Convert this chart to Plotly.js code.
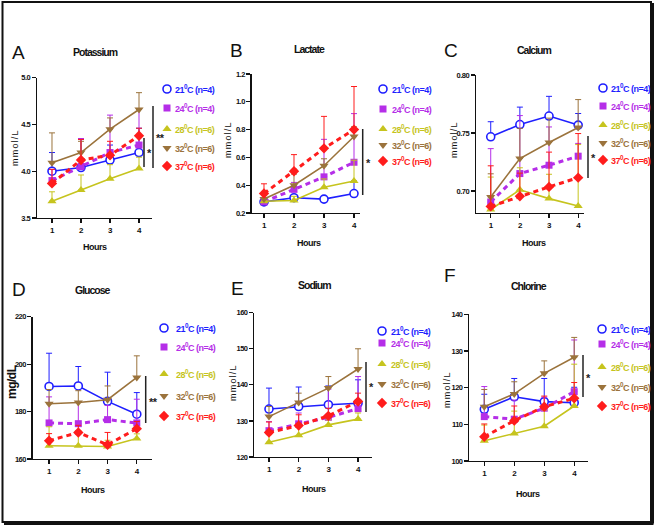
<!DOCTYPE html>
<html><head><meta charset="utf-8">
<script src="https://cdn.plot.ly/plotly-3.0.1.min.js"></script>
<style>body{margin:0;background:#fff}#chart{width:655px;height:528px} text{letter-spacing:-0.5px}</style>
</head><body><div id="chart"></div>
<script>
// ---------------- DATA ----------------
const hours = [1, 2, 3, 4];
const seriesNames = ['21<sup>0</sup>C (n=4)', '24<sup>0</sup>C (n=4)', '28<sup>0</sup>C (n=6)', '32<sup>0</sup>C (n=6)', '37<sup>0</sup>C (n=6)'];
const panelTitles = ['Potassium', 'Lactate', 'Calcium', 'Glucose', 'Sodium', 'Chlorine'];
const panelLetters = ['A', 'B', 'C', 'D', 'E', 'F'];
const yUnits = ['mmol/L', 'mmol/L', 'mmol/L', 'mg/dL', 'mmol/L', 'mmol/L'];
const xLabel = 'Hours';

// mean values per series: 21, 24, 28, 32, 37 °C
const potassiumMean = [[4.00, 4.04, 4.12, 4.20], [3.90, 4.05, 4.20, 4.28], [3.68, 3.80, 3.92, 4.03], [4.09, 4.20, 4.45, 4.66], [3.87, 4.12, 4.17, 4.38]];
const potassiumErr  = [[0.20, 0.30, 0.16, 0.26], [0.12, 0.30, 0.40, 0.38], [0.10, 0.16, 0.15, 0.12], [0.32, 0.12, 0.12, 0.18], [0.15, 0.22, 0.15, 0.08]];
const lactateMean = [[0.28, 0.31, 0.30, 0.34], [0.28, 0.37, 0.46, 0.565], [0.285, 0.29, 0.385, 0.43], [0.30, 0.40, 0.54, 0.75], [0.34, 0.50, 0.665, 0.80]];
const lactateErr  = [[0.02, 0.02, 0.02, 0.09], [0.02, 0.05, 0.27, 0.35], [0.02, 0.03, 0.06, 0.15], [0.03, 0.08, 0.05, 0.07], [0.07, 0.12, 0.23, 0.31]];
const calciumMean = [[0.7467, 0.7573, 0.7646, 0.7568], [0.6905, 0.715, 0.7222, 0.730], [0.684, 0.701, 0.6934, 0.687], [0.6948, 0.728, 0.7418, 0.7548], [0.6867, 0.6954, 0.7035, 0.7115]];
const calciumErr  = [[0.013, 0.015, 0.017, 0.010], [0.046, 0.050, 0.033, 0.011], [0.028, 0.019, 0.021, 0.053], [0.020, 0.026, 0.021, 0.024], [0.035, 0.020, 0.030, 0.038]];
const glucoseMean = [[190.6, 190.8, 184.3, 178.9], [175.2, 174.9, 176.6, 175.2], [165.6, 165.6, 165.3, 168.6], [183.3, 183.8, 185.0, 194.4], [167.7, 171.2, 166.0, 172.8]];
const glucoseErr  = [[14.0, 8.2, 12.3, 9.1], [11.0, 9.0, 6.0, 10.0], [8.0, 6.4, 2.6, 2.0], [6.0, 5.0, 5.8, 9.1], [3.0, 3.0, 5.2, 3.0]];
const sodiumMean = [[133.3, 134.0, 134.5, 134.9], [127.3, 129.2, 131.0, 133.4], [124.1, 126.0, 128.9, 130.5], [131.2, 135.1, 139.1, 144.4], [126.8, 128.7, 131.4, 135.4]];
const sodiumErr  = [[5.8, 5.4, 5.2, 6.5], [2.5, 3.0, 7.8, 8.9], [2.1, 2.5, 1.4, 1.7], [2.8, 2.6, 3.2, 5.6], [2.9, 3.0, 2.1, 2.3]];
const chlorineMean = [[114.1, 117.5, 116.2, 115.9], [112.1, 111.4, 114.4, 118.9], [105.5, 107.5, 109.5, 115.0], [114.8, 118.3, 123.9, 128.3], [106.6, 111.0, 114.8, 117.1]];
const chlorineErr  = [[4.1, 5.0, 6.3, 4.2], [8.2, 5.2, 3.0, 14.1], [4.3, 6.1, 4.4, 11.4], [4.7, 3.3, 3.4, 5.4], [3.5, 4.0, 2.9, 4.3]];

const potassiumTicks = [3.5, 4.0, 4.5, 5.0];
const lactateTicks = [0.2, 0.4, 0.6, 0.8, 1.0, 1.2];
const calciumTicks = [0.70, 0.75, 0.80];
const glucoseTicks = [160, 180, 200, 220];
const sodiumTicks = [120, 130, 140, 150, 160];
const chlorineTicks = [100, 110, 120, 130, 140];
const sigLabels = [['*', '**'], ['*'], ['*'], ['**'], ['*'], ['*']];

const panelMeans = [potassiumMean, lactateMean, calciumMean, glucoseMean, sodiumMean, chlorineMean];
const panelErrs = [potassiumErr, lactateErr, calciumErr, glucoseErr, sodiumErr, chlorineErr];
const panelTicks = [potassiumTicks, lactateTicks, calciumTicks, glucoseTicks, sodiumTicks, chlorineTicks];

// ---------------- STYLE / LAYOUT ----------------
const W = 655, H = 528;
const PX = v => v / W, PY = v => 1 - v / H;
const SANS = "'Liberation Sans', Arial, sans-serif";
const colors = ['#1f1fff', '#b52ee8', '#c6c41e', '#9b733c', '#ff1c1c'];
const symbols = ['circle', 'square', 'triangle-up', 'triangle-down', 'diamond'];
const dashed = [false, true, false, false, true];

const panels = [
  {dom: [37, 152, 77.7, 218], xr: [0.483, 4.448], yr: [3.5, 5.0], fmt: '.1f', title: [95, 52], letter: [18, 53], xt: [95, 247], yt: [15, 148], ytBold: false,
   legM: 167, legT: 173, legY: [89, 108, 129, 148, 166],
   sig: [{x: 144, y0: 138, y1: 167, lx: 149, ly: 153}, {x: 153, y0: 106, y1: 168, lx: 160, ly: 138}]},
  {dom: [251.7, 360, 74, 213], xr: [0.59, 4.2], yr: [0.2, 1.2], fmt: '.1f', title: [309, 49], letter: [236, 51], xt: [309, 243], yt: [228, 140], ytBold: false,
   legM: 383, legT: 390, legY: [89, 109, 129, 145, 161],
   sig: [{x: 362.7, y0: 129, y1: 195, lx: 368, ly: 163}]},
  {dom: [476, 584, 75, 213], xr: [0.495, 4.2], yr: [0.681, 0.80], fmt: '.2f', title: [534, 50], letter: [450, 50], xt: [534, 243], yt: [454, 140], ytBold: false,
   legM: 603, legT: 609, legY: [88, 106, 125, 143, 160],
   sig: [{x: 588, y0: 136, y1: 178, lx: 593, ly: 158}]},
  {dom: [32.7, 152, 316.7, 459], xr: [0.44, 4.52], yr: [160, 220], fmt: 'd', title: [93, 290], letter: [18, 289], xt: [93, 490], yt: [12, 382], ytBold: true,
   legM: 164, legT: 174, legY: [328, 347, 374, 396, 416],
   sig: [{x: 145.7, y0: 376, y1: 423, lx: 153, ly: 402}]},
  {dom: [254.3, 371.7, 312.7, 457], xr: [0.505, 4.46], yr: [120, 160], fmt: 'd', title: [314, 285], letter: [237, 288], xt: [314, 489], yt: [233, 383], ytBold: false,
   legM: 382, legT: 389, legY: [331, 343, 364, 384, 403],
   sig: [{x: 366, y0: 362, y1: 412, lx: 371, ly: 387}]},
  {dom: [469.3, 588, 314.3, 461], xr: [0.5, 4.46], yr: [100, 140], fmt: 'd', title: [529, 286], letter: [449, 275], xt: [528, 494], yt: [447, 390], ytBold: false,
   legM: 602, legT: 609, legY: [329, 344, 367, 387, 406],
   sig: [{x: 583, y0: 355, y1: 397, lx: 588, ly: 378}]}
];

const traces = [];
const layout = {
  width: W, height: H, margin: {l: 0, r: 0, t: 0, b: 0},
  paper_bgcolor: '#fff', plot_bgcolor: 'rgba(0,0,0,0)',
  showlegend: true, annotations: [], shapes: [], font: {family: SANS, color: '#111'}
};

panels.forEach((p, i) => {
  const n = i + 1;
  const xa = 'xaxis' + (n === 1 ? '' : n), ya = 'yaxis' + (n === 1 ? '' : n);
  const xr = 'x' + (n === 1 ? '' : n), yr = 'y' + (n === 1 ? '' : n);
  layout[xa] = {domain: [PX(p.dom[0]), PX(p.dom[1])], range: p.xr, anchor: yr, showgrid: false, zeroline: false,
    showline: true, linecolor: '#111', linewidth: 1.3, ticks: 'outside', ticklen: 4, tickwidth: 1.2, tickcolor: '#111',
    tickvals: hours, tickfont: {family: SANS, size: 8, weight: 'bold', color: '#111'}};
  layout[ya] = {domain: [PY(p.dom[3]), PY(p.dom[2])], range: p.yr, anchor: xr, showgrid: false, zeroline: false,
    showline: true, linecolor: '#111', linewidth: 1.3, ticks: 'outside', ticklen: 4, tickwidth: 1.2, tickcolor: '#111',
    tickvals: panelTicks[i], tickformat: p.fmt, tickfont: {family: SANS, size: 7.5, weight: 'bold', color: '#111'}};

  const means = panelMeans[i], errs = panelErrs[i];
  means.forEach((m, s) => {
    traces.push({x: hours, y: m, xaxis: xr, yaxis: yr, mode: 'lines', showlegend: false, hoverinfo: 'skip',
      line: {color: colors[s], width: dashed[s] ? 3 : 1.6, dash: dashed[s] ? '5px,4px' : 'solid'}});
    const k = i * 5 + s;
    const legId = k === 0 ? 'legend' : 'legend' + (k + 1);
    // legend key = marker only; its label is drawn as a coloured annotation right next to it
    traces.push({x: hours, y: m, xaxis: xr, yaxis: yr, mode: 'markers', name: '', legend: legId, showlegend: true, cliponaxis: false,
      marker: {symbol: symbols[s], size: s === 1 ? 7 : 8, color: s === 0 ? '#fff' : colors[s], line: {color: colors[s], width: s === 0 ? 1.6 : 0}},
      error_y: {type: 'data', symmetric: false, array: errs[s], arrayminus: [0, 0, 0, 0], color: colors[s], thickness: 1, width: 3}});
    layout[legId] = {x: PX(p.legM - 20), xanchor: 'left', y: PY(p.legY[s]), yanchor: 'middle', bgcolor: 'rgba(0,0,0,0)',
      borderwidth: 0, font: {size: 9}, itemclick: false};
    layout.annotations.push({xref: 'paper', yref: 'paper', x: PX(p.legT), y: PY(p.legY[s]), xanchor: 'left', yanchor: 'middle',
      text: seriesNames[s], showarrow: false, font: {family: SANS, size: 9, weight: 'bold', color: colors[s]}});
  });

  // titles & labels
  layout.annotations.push({xref: 'paper', yref: 'paper', x: PX(p.title[0]), y: PY(p.title[1]), xanchor: 'center', yanchor: 'middle',
    text: '<span style="letter-spacing:-1px">' + panelTitles[i] + '</span>', showarrow: false, font: {family: SANS, size: 10.5, weight: 'bold', color: '#111'}});
  layout.annotations.push({xref: 'paper', yref: 'paper', x: PX(p.letter[0]), y: PY(p.letter[1]), xanchor: 'center', yanchor: 'middle',
    text: panelLetters[i], showarrow: false, font: {family: SANS, size: 19, color: '#111'}});
  layout.annotations.push({xref: 'paper', yref: 'paper', x: PX(p.xt[0]), y: PY(p.xt[1]), xanchor: 'center', yanchor: 'middle',
    text: xLabel, showarrow: false, font: {family: SANS, size: 9, weight: 'bold', color: '#111'}});
  layout.annotations.push({xref: 'paper', yref: 'paper', x: PX(p.yt[0]), y: PY(p.yt[1]), xanchor: 'center', yanchor: 'middle', textangle: -90,
    text: p.ytBold ? yUnits[i] : '<span style="letter-spacing:1.2px">' + yUnits[i] + '</span>', showarrow: false,
    font: p.ytBold ? {family: SANS, size: 12, weight: 'bold', color: '#111'} : {family: SANS, size: 9, color: '#111'}});
  p.sig.forEach((g, j) => {
    layout.shapes.push({type: 'line', xref: 'paper', yref: 'paper', x0: PX(g.x), x1: PX(g.x), y0: PY(g.y0), y1: PY(g.y1), line: {color: '#222', width: 1.5}});
    layout.annotations.push({xref: 'paper', yref: 'paper', x: PX(g.lx), y: PY(g.ly), xanchor: 'center', yanchor: 'middle',
      text: sigLabels[i][j], showarrow: false, font: {family: SANS, size: 11, weight: 'bold', color: '#222'}});
  });
});

// outer frame
layout.shapes.push({type: 'rect', xref: 'paper', yref: 'paper', x0: PX(2.5), x1: PX(651), y0: PY(522), y1: PY(2), line: {color: '#111', width: 2}});
layout.shapes.push({type: 'line', xref: 'paper', yref: 'paper', x0: PX(652.5), x1: PX(652.5), y0: PY(523.5), y1: PY(3), line: {color: '#111', width: 3}});
layout.shapes.push({type: 'line', xref: 'paper', yref: 'paper', x0: PX(4), x1: PX(653.5), y0: PY(523.5), y1: PY(523.5), line: {color: '#111', width: 3}});

Plotly.newPlot('chart', traces, layout, {staticPlot: true, displayModeBar: false});
</script>
</body></html>
